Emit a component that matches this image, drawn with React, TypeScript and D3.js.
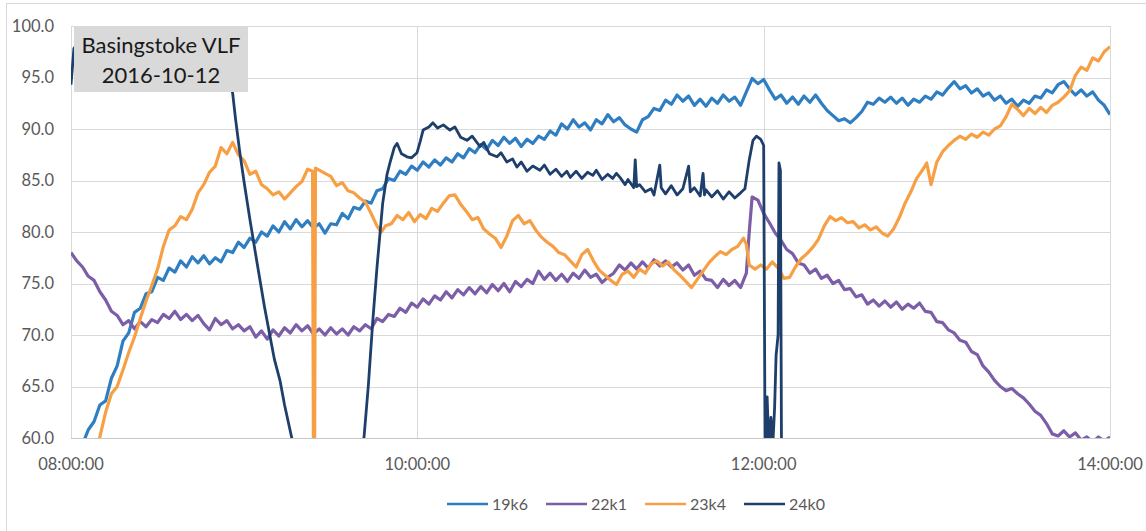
import React from "react";
import * as d3 from "d3";

// minutes after 08:00 -> value
const s19k6: [number, number][] = [[0,55],[2,57.5],[4,59.4],[6,60.8],[8,61.6],[10,63.2],[12,63.6],[14,65.8],[16,67],[18,69.4],[20,70.2],[22,72.2],[24,72.6],[26,74],[28,74.2],[30,75.6],[32,75.3],[34,76.5],[36,76.1],[38,77.2],[40,76.6],[42,77.6],[44,77],[46,77.7],[48,76.9],[50,77.5],[52,77.1],[54,78.2],[56,78],[58,79],[60,78.5],[62,79.4],[64,79],[66,80],[68,79.6],[70,80.6],[72,80],[74,81],[76,80.3],[78,81.2],[80,80.5],[82,81.1],[84,80.4],[86,80.8],[88,79.9],[90,80.8],[92,80.7],[94,81.8],[96,81.3],[98,82.4],[100,82.2],[102,83],[104,82.8],[106,84],[108,84.2],[110,85.2],[112,85],[114,85.9],[116,85.6],[118,86.4],[120,86],[122,86.8],[124,86.3],[126,87],[128,86.5],[130,87.2],[132,86.8],[134,87.6],[136,87.2],[138,88.1],[140,87.7],[142,88.5],[144,88],[146,88.9],[148,88.4],[150,89.2],[152,88.6],[154,89.1],[156,88.3],[158,89],[160,88.6],[162,89.3],[164,89],[166,89.8],[168,89.4],[170,90.5],[172,90],[174,90.9],[176,90.2],[178,90.6],[180,89.9],[182,90.9],[184,90.5],[186,91.4],[188,90.7],[190,91.1],[192,90.4],[194,90],[196,89.7],[198,90.9],[200,91.2],[202,92],[204,91.8],[206,92.8],[208,92.4],[210,93.3],[212,92.7],[214,93.2],[216,92.3],[218,92.9],[220,92.2],[222,93],[224,92.5],[226,93.3],[228,92.7],[230,93.1],[232,92.3],[234,93.6],[236,94.9],[238,94.4],[240,94.8],[242,93.8],[244,92.9],[246,93.3],[248,92.5],[250,93.1],[252,92.4],[254,93.2],[256,92.6],[258,93.3],[260,92.5],[262,91.8],[264,91.3],[266,90.8],[268,91],[270,90.6],[272,91.1],[274,91.7],[276,92.6],[278,92.4],[280,93],[282,92.6],[284,93.1],[286,92.5],[288,93],[290,92.3],[292,92.9],[294,92.6],[296,93.2],[298,92.9],[300,93.6],[302,93.3],[304,94],[306,94.6],[308,93.9],[310,94.2],[312,93.5],[314,93.9],[316,93.2],[318,93.5],[320,92.8],[322,93.2],[324,92.5],[326,92.9],[328,92.2],[330,92.8],[332,92.5],[334,93.2],[336,93],[338,93.8],[340,93.5],[342,94.3],[344,94.6],[346,93.9],[348,93.3],[350,93.8],[352,93.2],[354,93.6],[356,92.8],[358,92.3],[360,91.4]];

const s22k1: [number, number][] = [[0,78],[2,77.2],[4,76.6],[6,75.7],[8,75.3],[10,74.2],[12,73.4],[14,72.3],[16,71.9],[18,71],[20,71.4],[22,70.6],[24,71.3],[26,70.8],[28,71.5],[30,71.2],[32,72],[34,71.6],[36,72.3],[38,71.5],[40,72],[42,71.4],[44,71.9],[46,71.1],[48,70.5],[50,71.6],[52,71],[54,71.4],[56,70.6],[58,71],[60,70.4],[62,70.8],[64,69.8],[66,70.4],[68,69.6],[70,70.5],[72,69.9],[74,70.7],[76,70.2],[78,71],[80,70.4],[82,70.9],[84,70.1],[86,70.6],[88,70],[90,70.7],[92,70.1],[94,70.6],[96,70],[98,70.8],[100,70.4],[102,71],[104,70.6],[106,71.6],[108,71.3],[110,72],[112,71.8],[114,72.6],[116,72.2],[118,73.1],[120,72.7],[122,73.5],[124,73],[126,73.8],[128,73.4],[130,74.2],[132,73.6],[134,74.4],[136,73.9],[138,74.6],[140,74],[142,74.7],[144,74.1],[146,74.9],[148,74.3],[150,75],[152,74.2],[154,75.2],[156,74.7],[158,75.4],[160,75],[162,76.2],[164,75.4],[166,76],[168,75.3],[170,75.9],[172,75.2],[174,76],[176,75.5],[178,76.3],[180,75.6],[182,75.9],[184,75.1],[186,75.6],[188,76],[190,76.8],[192,76.3],[194,77],[196,76.4],[198,77.1],[200,76.5],[202,77.3],[204,76.7],[206,77.2],[208,76.6],[210,77],[212,76.3],[214,76.8],[216,75.8],[218,76.2],[220,75.4],[222,75.3],[224,74.6],[226,75.4],[228,74.8],[230,75.3],[232,74.6],[234,76],[235,80],[236,83.4],[238,83.1],[240,81.8],[242,80.9],[244,79.9],[246,79.2],[248,78.3],[250,77.9],[252,77],[254,76.8],[256,76],[258,76.4],[260,75.5],[262,75.8],[264,75],[266,75.3],[268,74.4],[270,74.5],[272,73.7],[274,73.9],[276,73],[278,73.4],[280,72.8],[282,73.3],[284,72.7],[286,73.2],[288,72.5],[290,73],[292,72.6],[294,73.1],[296,72.3],[298,72.2],[300,71.3],[302,71.2],[304,70.5],[306,70.2],[308,69.5],[310,69.3],[312,68.4],[314,68.1],[316,67],[318,66.4],[320,65.6],[322,65],[324,64.6],[326,64.8],[328,64.3],[330,63.9],[332,63.3],[334,62.6],[336,62.2],[338,61.4],[340,60.4],[342,60.2],[344,60.7],[346,60.1],[348,60.5],[350,59.8],[352,60.1],[354,59.6],[356,60.1],[358,59.7],[360,60.1]];

const s23k4: [number, number][] = [[0,52],[4,55],[8,58.4],[10,60.1],[12,62.5],[14,64.3],[16,65],[18,66.6],[20,68.3],[22,69.8],[24,71.6],[26,73.3],[28,74.8],[30,76.4],[32,78.6],[34,80.2],[36,80.6],[38,81.5],[40,81.2],[42,82.2],[44,83.8],[46,84.6],[48,85.8],[50,86.4],[52,88.2],[54,87.6],[56,88.7],[58,87.5],[60,86.9],[62,85.6],[64,85.9],[66,84.6],[68,84.2],[70,83.6],[72,83.9],[74,83.2],[76,83.8],[78,84.4],[80,84.9],[82,86.1],[83.7,85.9],[84.2,40],[84.7,86.2],[86,86],[88,85.7],[90,85.4],[92,84.5],[94,84.8],[96,84],[98,83.8],[100,83.3],[102,82.9],[104,81.8],[106,80.6],[107.5,80],[109,80.6],[111,80.8],[113,81.6],[115,81.2],[117,81.9],[119,81],[121,81.7],[123,81.3],[125,82.3],[127,82],[129,82.8],[131,83.5],[133,83.6],[135,82.7],[137,82],[139,81.2],[141,81.4],[143,80.3],[145,79.8],[147,79.4],[149,78.5],[151,79.6],[153,81.1],[155,81.6],[157,80.8],[159,81.1],[161,80.2],[163,79.5],[165,79],[167,78.6],[169,78],[171,77.8],[173,77.2],[175,76.6],[177,77.8],[179,78.3],[181,77.2],[183,76.3],[185,75.8],[187,75.3],[189,74.9],[191,75.9],[193,76.2],[195,75.6],[197,76.4],[199,76],[201,76.9],[203,77.2],[205,76.7],[207,77.1],[209,76.3],[211,75.8],[213,75.2],[215,74.6],[217,75.4],[219,76.2],[221,77],[223,77.6],[225,78.1],[227,77.8],[229,78.3],[231,78.6],[233,79.4],[234,78.8],[235,76.8],[237,76.4],[239,76.8],[241,76.4],[243,77.1],[245,76.5],[247,75.5],[249,75.6],[251,76.6],[253,77.4],[255,77.9],[257,78.5],[259,79.3],[261,80.6],[263,81.5],[265,81.1],[267,81.4],[269,80.9],[271,81],[273,80.4],[275,80.7],[277,80.2],[279,80.5],[281,79.9],[283,79.6],[285,80.3],[287,81.4],[289,82.8],[291,83.9],[293,85.2],[295,86],[296.5,86.7],[298,84.6],[300,86.8],[302,87.8],[304,88.4],[306,88.9],[308,89.3],[310,89],[312,89.5],[314,89.2],[316,89.7],[318,89.4],[320,90],[322,90.3],[324,91.2],[326,92.4],[328,91.9],[330,91.3],[332,92],[334,91.5],[336,92.1],[338,91.6],[340,92.3],[342,92.6],[344,93.1],[346,93.7],[348,95.2],[350,96],[352,95.7],[354,96.9],[356,96.6],[358,97.5],[360,98]];

const s24k0: [number, number][] = [[0,94.3],[0.5,96],[1,97.8],[3,98.6],[50,99],[53,97],[56,93.5],[57,91],[58.5,87.7],[60,84.8],[62,81.2],[64,77.8],[65.5,75.3],[67,72.8],[69,69.8],[70.5,67.6],[72.4,65.6],[74,63.2],[76.5,60],[78,57],[100,57],[101.5,60],[103,65],[104.6,71.5],[106,76.5],[108,82.8],[109.5,85.6],[110.5,86.7],[112,88.2],[113,88.6],[114.5,87.6],[116.4,87.3],[118,87.2],[119.9,87.7],[121,88.8],[122,89.9],[124,90.2],[125.4,90.6],[127,90.1],[129,90.4],[131.3,89.9],[133,90.2],[135,89.2],[137.2,88.9],[139,89.3],[141.7,88.3],[143,88.7],[145,87.6],[147.6,87.3],[149,87.7],[151,86.8],[153,87.1],[154.5,86.3],[156,86.8],[158,85.9],[160,86.4],[162.5,86],[164,86.5],[166,85.6],[168,86.1],[170,85.4],[171.8,85.9],[173,85.3],[175,85.9],[177,85.2],[179,85.8],[180.8,85.5],[182,86],[184,85.1],[186,85.6],[187.7,85.2],[189,85.7],[190.2,85.3],[192,84.6],[193,85.1],[195,84.3],[195.5,87],[196,84.4],[197,84.6],[199,83.9],[201,84.2],[202,83.6],[204,86.5],[204.5,84.3],[206,83.7],[208,84.5],[210,83.6],[212,84.2],[214,86.4],[214.6,83.9],[216,84.3],[218,83.5],[219,85.7],[219.5,83.6],[220,84.1],[222,83.4],[224,84],[226,83.2],[228,83.9],[230,83.3],[232,83.8],[233.5,84.2],[235,87],[236.3,88.9],[237.5,89.3],[239,89],[240,88.4],[240.5,58],[241.2,64],[241.8,59],[242.5,62],[243.2,59.5],[243.8,63],[244.3,68],[245,70],[245.3,86.7],[245.8,86],[246.3,50]];

const seriesNames = ["19k6", "22k1", "23k4", "24k0"];
const seriesData = [s19k6, s22k1, s23k4, s24k0];
const seriesColors = ["#2f7ec2", "#7b5ea7", "#f79f44", "#1e3f6b"];

const yTicks = [60, 65, 70, 75, 80, 85, 90, 95, 100];
const xTickMinutes = [0, 120, 240, 360];
const xTickLabels = ["08:00:00", "10:00:00", "12:00:00", "14:00:00"];
const titleLines = ["Basingstoke VLF", "2016-10-12"];

const W = 1146, H = 531;
const PL = 71, PR = 1110, PT = 26, PB = 438;
const FONT = "Lato, 'Open Sans', sans-serif";

export default function App() {
  const x = d3.scaleLinear().domain([0, 360]).range([PL, PR]);
  const y = d3.scaleLinear().domain([60, 100]).range([PB, PT]);
  const line = d3.line<[number, number]>().x(d => x(d[0])).y(d => y(d[1]));

  return (
    <svg width={W} height={H} style={{ position: "absolute", left: 0, top: 0, background: "#fff" }}>
      <defs>
        <clipPath id="plotClip">
          <rect x={PL} y={PT} width={PR - PL} height={PB - PT} />
        </clipPath>
      </defs>
      <rect x={6.5} y={3.5} width={1150} height={560} fill="none" stroke="#d9d9d9" />
      {yTicks.map(t => (
        <line key={"g" + t} x1={PL} x2={PR} y1={Math.round(y(t)) + 0.5} y2={Math.round(y(t)) + 0.5} stroke={t === 60 ? "#c8c8c8" : "#d9d9d9"} strokeWidth={1} />
      ))}
      {xTickMinutes.map(m => (
        <line key={"v" + m} x1={Math.round(x(m)) + 0.5} x2={Math.round(x(m)) + 0.5} y1={PT} y2={PB} stroke="#d9d9d9" strokeWidth={1} />
      ))}
      {yTicks.map(t => (
        <text key={"yl" + t} x={54} y={y(t) + 5.5} textAnchor="end" fontFamily={FONT} fontSize={16.5} fill="#595959">{d3.format(".1f")(t)}</text>
      ))}
      {xTickMinutes.map((m, i) => (
        <text key={"xl" + m} x={x(m)} y={470} textAnchor="middle" fontFamily={FONT} fontSize={16.5} fill="#595959">{xTickLabels[i]}</text>
      ))}
      <g clipPath="url(#plotClip)">
        {seriesData.map((d, i) => (
          <path key={seriesNames[i]} d={line(d) || ""} fill="none" stroke={seriesColors[i]} strokeWidth={i === 3 ? 2.8 : 3.2} strokeLinejoin="round" />
        ))}
      </g>
      <rect x={74} y={26} width={174} height={66} fill="#d9d9d9" />
      {titleLines.map((t, i) => (
        <text key={t} x={161} y={53 + i * 30} textAnchor="middle" fontFamily={FONT} fontSize={22} fill="#1a1a1a">{t}</text>
      ))}
      {seriesNames.map((n, i) => (
        <g key={"lg" + n} transform={`translate(${447 + i * 99},0)`}>
          <line x1={0} x2={41} y1={504} y2={504} stroke={seriesColors[i]} strokeWidth={2.5} />
          <text x={45} y={510} fontFamily={FONT} fontSize={16} fill="#595959">{n}</text>
        </g>
      ))}
    </svg>
  );
}
